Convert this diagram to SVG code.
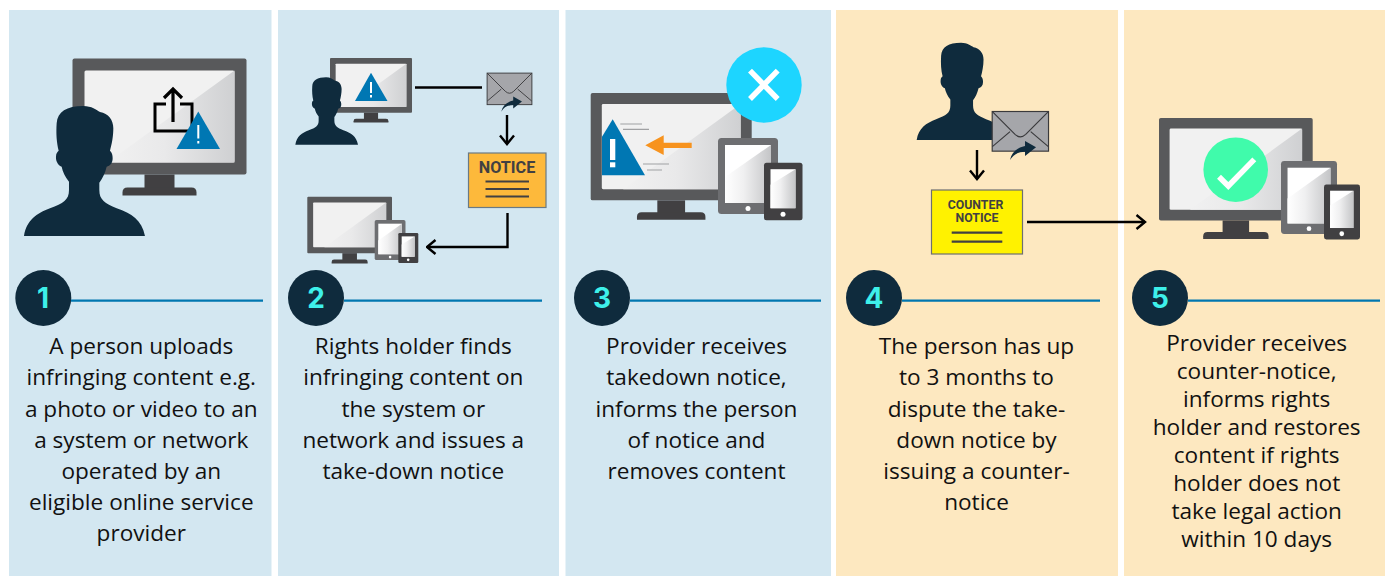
<svg xmlns="http://www.w3.org/2000/svg" xmlns:xlink="http://www.w3.org/1999/xlink" width="1385" height="576" viewBox="0 0 1385 576">
<style>
.blue{fill:#d3e7f1}.sand{fill:#fde8c0}
.body{font-family:"Open Sans","Noto Sans",sans-serif;font-size:22.6px;fill:#111;text-anchor:middle}
.num{font-family:"Inter","Liberation Sans",sans-serif;font-weight:700;font-size:28px;fill:#3ef0ea;text-anchor:middle}
.badge{fill:#0f2b3d}.rule{stroke:#0077b0;stroke-width:2.2;fill:none}
.tri{fill:#0077b3}.white{fill:#fff}
.conn{fill:none;stroke:#000;stroke-width:2.4}
.lbl{font-family:"Roboto","Liberation Sans",sans-serif;font-weight:700;fill:#414042;text-anchor:middle}
.bar{stroke:#414042;stroke-width:2.2;fill:none}
</style>
<defs>
<linearGradient id="sheen" x1="0" y1="0" x2="1" y2="0"><stop offset="0" stop-color="#f1f1f1"/><stop offset=".45" stop-color="#e9e9ea"/><stop offset="1" stop-color="#cfd0d2"/></linearGradient>
<linearGradient id="sheen2" x1="0" y1="0" x2="1" y2="0"><stop offset="0" stop-color="#fff"/><stop offset=".4" stop-color="#f0f0f1"/><stop offset="1" stop-color="#c4c5c7"/></linearGradient>
<marker id="arrow" viewBox="0 0 12 16" markerWidth="12" markerHeight="16" refX="10.5" refY="8" orient="auto" markerUnits="userSpaceOnUse"><path d="M2,1L10.5,8L2,15" fill="none" stroke="#000" stroke-width="2.4"/></marker>
<g id="person"><path class="badge" d="M72,708C80,660 110,640 150,625C190,610 207,600 207,570L207,545C195,530 188,515 185,500C172,495 167,480 168,470C168,460 172,455 176,452C170,430 168,400 170,370C172,335 200,318 250,318C275,318 290,330 300,336C325,340 340,360 340,385C340,410 335,435 330,452C336,458 338,465 338,475C338,490 330,498 320,500C315,520 308,535 298,548L298,570C298,600 315,610 350,625C395,640 425,660 435,708Z"/></g>
<g id="monitor">
<rect x="0" y="0" width="174" height="116" rx="2" fill="#58595b"/>
<rect x="72" y="116" width="30" height="14" fill="#414042"/>
<path d="M50,137V134Q50,129 55,129H119Q124,129 124,134V137Z" fill="#414042"/>
<rect x="12" y="12" width="150" height="92" rx="1.5" fill="#f1f1f1"/>
<path d="M162,12V104H35Z" fill="url(#sheen)"/>
</g>
<g id="tablet">
<rect x="0" y="0" width="60" height="76" rx="3.5" fill="#6d6e71"/>
<rect x="7" y="7" width="46" height="58" fill="#fff"/>
<path d="M53,7V65H7V39Z" fill="url(#sheen2)"/>
<circle cx="30" cy="70.500" r="2.500" fill="#fff"/>
</g>
<g id="phone">
<rect x="0" y="0" width="38.500" height="57.500" rx="2.500" fill="#414042"/>
<rect x="6.500" y="6.500" width="25" height="39" fill="#fff"/>
<path d="M31.500,6.500V45.500H6.500V22Z" fill="url(#sheen2)"/>
<circle cx="19" cy="51.500" r="2.500" fill="#fff"/>
</g>
<g id="envelope">
<rect x="1.500" y="1.500" width="169" height="119" fill="#a5a6aa" stroke="#3a3a3c" stroke-width="3.500"/>
<path d="M2,2L70,70Q86,85 102,70L170,2M2,107L55,62M170,107L117,62" fill="none" stroke="#3a3a3c" stroke-width="3.500"/>
<path class="badge" d="M55,147C60,125 75,110 100,105L100,90L133,109L100,135L100,122C80,122 65,130 55,147Z"/>
</g>
</defs>

<g id="panels">
<rect class="blue" x="9" y="10" width="262.500" height="566"/>
<rect class="blue" x="278" y="10" width="281" height="566"/>
<rect class="blue" x="565.500" y="10" width="265.500" height="566"/>
<rect class="sand" x="836" y="10" width="282" height="566"/>
<rect class="sand" x="1124" y="10" width="261" height="566"/>
</g>

<g id="node1">
<use xlink:href="#monitor" href="#monitor" x="72.500" y="58.500"/>
<path d="M166,104H155V131H192V104H180" fill="none" stroke="#000" stroke-width="3"/>
<path d="M173,122V90M164,98L173,89L182,98" fill="none" stroke="#000" stroke-width="3.200"/>
<path class="tri" d="M198.300,111.500L176.500,149H220Z"/>
<rect class="white" x="197.300" y="125" width="2" height="13.500"/><rect class="white" x="197.300" y="141" width="2" height="2.500"/>
<use xlink:href="#person" href="#person" transform="scale(.3333)"/>
<circle class="badge" cx="43.300" cy="298" r="28"/><path class="rule" d="M71,300.700H263"/>
<text class="num" x="43" y="308">1</text>
<text class="body"><tspan x="141.300" y="354.300">A person uploads</tspan><tspan x="141.300" y="385.400">infringing content e.g.</tspan><tspan x="141.300" y="416.500">a photo or video to an</tspan><tspan x="141.300" y="447.600">a system or network</tspan><tspan x="141.300" y="478.700">operated by an</tspan><tspan x="141.300" y="509.800">eligible online service</tspan><tspan x="141.300" y="541">provider</tspan></text>
</g>

<g id="node2">
<use xlink:href="#monitor" href="#monitor" transform="translate(330,58) scale(.4713)"/>
<path class="tri" d="M371,72.700L355,101H387.500Z"/>
<rect class="white" x="370" y="82" width="2" height="11"/><rect class="white" x="370" y="95" width="2" height="2.500"/>
<use xlink:href="#person" href="#person" transform="translate(282.900,22.400) scale(.1727)"/>
<use xlink:href="#envelope" href="#envelope" transform="translate(486.700,72.700) scale(.2651)"/>
<g id="notice"><rect x="468.500" y="153" width="77.500" height="54.500" fill="#fdb93b" stroke="#6a7a84" stroke-width="1.200"/>
<text class="lbl" x="507" y="172.700" font-size="16.200">NOTICE</text>
<path class="bar" d="M485.500,181.500H529M485.500,189H529M485.500,196.500H529"/></g>
<use xlink:href="#monitor" href="#monitor" transform="translate(307.300,196.700) scale(.4868)"/>
<use xlink:href="#tablet" href="#tablet" transform="translate(374.700,220) scale(.5133,.5263)"/>
<use xlink:href="#phone" href="#phone" transform="translate(398.300,233) scale(.5195,.5217)"/>
<circle class="badge" cx="316" cy="298" r="28"/><path class="rule" d="M344,300.700H542"/>
<text class="num" x="316" y="308">2</text>
<text class="body"><tspan x="413.300" y="354.300">Rights holder finds</tspan><tspan x="413.300" y="385.400">infringing content on</tspan><tspan x="413.300" y="416.500">the system or</tspan><tspan x="413.300" y="447.600">network and issues a</tspan><tspan x="413.300" y="478.700">take-down notice</tspan></text>
</g>

<g id="node3">
<use xlink:href="#monitor" href="#monitor" transform="translate(590.700,93) scale(.9253)"/>
<path class="tri" d="M612.700,119.300L602,136.700V175.300H645Z"/>
<rect class="white" x="610" y="139" width="5.300" height="21"/><rect class="white" x="610" y="162.300" width="5.300" height="5"/>
<path d="M620.300,124H642M623,129.300H649M643,164H669M647,170H662" stroke="#a0a1a3" stroke-width="1.200" fill="none"/>
<path d="M645.300,145.300L663.700,135.300V142.700H691.700V148H663.700V155Z" fill="#f7931e"/>
<use xlink:href="#tablet" href="#tablet" transform="translate(718,138)"/>
<use xlink:href="#phone" href="#phone" transform="translate(764,162.700)"/>
<circle cx="764" cy="85" r="37.700" fill="#1dd5ff"/>
<path d="M750,70.700L777.700,99M777.700,70.700L750,99" stroke="#fff" stroke-width="5.500" fill="none"/>
<circle class="badge" cx="602" cy="298" r="28"/><path class="rule" d="M630,300.700H821"/>
<text class="num" x="602" y="308">3</text>
<text class="body"><tspan x="696.500" y="354.300">Provider receives</tspan><tspan x="696.500" y="385.400">takedown notice,</tspan><tspan x="696.500" y="416.500">informs the person</tspan><tspan x="696.500" y="447.600">of notice and</tspan><tspan x="696.500" y="478.700">removes content</tspan></text>
</g>

<g id="node4">
<use xlink:href="#person" href="#person" transform="translate(898.700,-36.600) scale(.2495)"/>
<use xlink:href="#envelope" href="#envelope" transform="translate(991.700,111) scale(.3333)"/>
<g id="counter"><rect x="931.500" y="190" width="91" height="64" fill="#fff200" stroke="#6d6e71" stroke-width="1.200"/>
<text class="lbl" x="975.500" y="209.300" font-size="12.300">COUNTER</text>
<text class="lbl" x="977" y="222.300" font-size="12.300">NOTICE</text>
<path class="bar" d="M951.700,232.700H1002.300M951.700,241.700H1002.300"/></g>
<circle class="badge" cx="874" cy="298" r="28"/><path class="rule" d="M902,300.700H1100"/>
<text class="num" x="874" y="308">4</text>
<text class="body"><tspan x="976.500" y="354.300">The person has up</tspan><tspan x="976.500" y="385.400">to 3 months to</tspan><tspan x="976.500" y="416.500">dispute the take-</tspan><tspan x="976.500" y="447.600">down notice by</tspan><tspan x="976.500" y="478.700">issuing a counter-</tspan><tspan x="976.500" y="509.800">notice</tspan></text>
</g>

<g id="node5">
<use xlink:href="#monitor" href="#monitor" transform="translate(1159,118) scale(.8833)"/>
<circle cx="1235.700" cy="169.700" r="32.300" fill="#40fbab"/>
<path d="M1219,176.700L1228.300,186L1254.300,159.300" stroke="#fff" stroke-width="5.500" fill="none"/>
<use xlink:href="#tablet" href="#tablet" transform="translate(1281,161) scale(.9333,.96)"/>
<use xlink:href="#phone" href="#phone" transform="translate(1324,184.500) scale(.935,.9565)"/>
<circle class="badge" cx="1160" cy="298" r="28"/><path class="rule" d="M1188,300.700H1380"/>
<text class="num" x="1160" y="308">5</text>
<text class="body"><tspan x="1256.700" y="351">Provider receives</tspan><tspan x="1256.700" y="379">counter-notice,</tspan><tspan x="1256.700" y="407">informs rights</tspan><tspan x="1256.700" y="435">holder and restores</tspan><tspan x="1256.700" y="463">content if rights</tspan><tspan x="1256.700" y="491">holder does not</tspan><tspan x="1256.700" y="519">take legal action</tspan><tspan x="1256.700" y="547">within 10 days</tspan></text>
</g>

<g id="connectors">
<path class="conn" d="M415,87.500H482"/>
<path class="conn" d="M507,115V144" marker-end="url(#arrow)"/>
<path class="conn" d="M507.500,213V247H427" marker-end="url(#arrow)"/>
<path class="conn" d="M977,150V179" marker-end="url(#arrow)"/>
<path class="conn" d="M1027,222H1145" marker-end="url(#arrow)"/>
</g>
</svg>
